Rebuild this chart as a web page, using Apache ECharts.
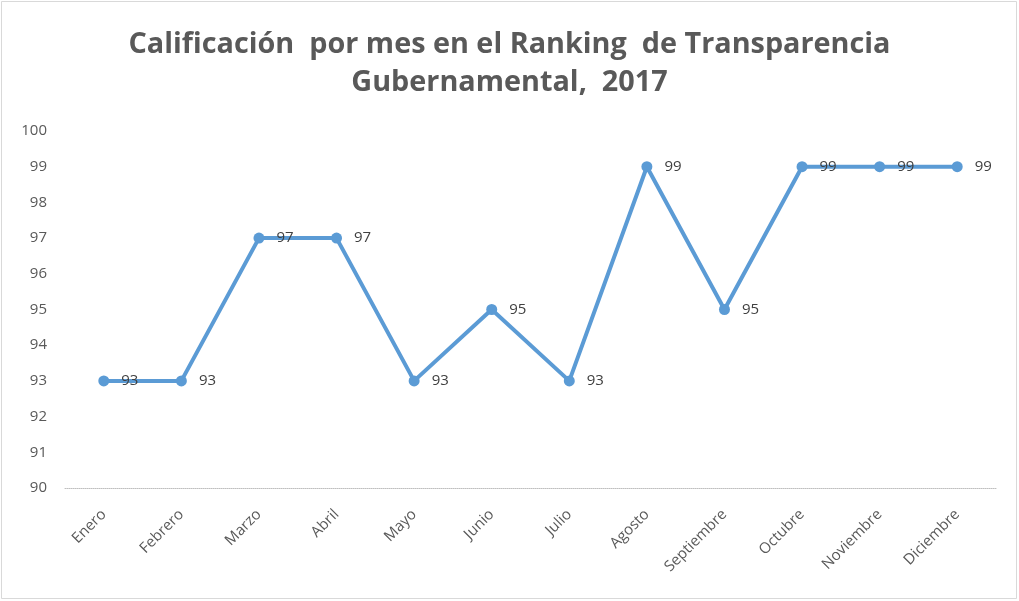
<!DOCTYPE html>
<html>
<head>
<meta charset="utf-8">
<script src="https://cdn.jsdelivr.net/npm/echarts@6/dist/echarts.min.js"></script>
<style>
html,body{margin:0;padding:0;background:#fff;}
#chart{width:1019px;height:601px;}
</style>
</head>
<body>
<div id="chart"></div>
<script>
const titleText = "Calificación  por mes en el Ranking  de Transparencia\nGubernamental,  2017";
const months = ["Enero","Febrero","Marzo","Abril","Mayo","Junio","Julio","Agosto","Septiembre","Octubre","Noviembre","Diciembre"];
const scores = [93,93,97,97,93,95,93,99,95,99,99,99];
const yMin = 90, yMax = 100, yStep = 1;

const chart = echarts.init(document.getElementById('chart'), null, {renderer:'canvas'});
chart.setOption({
  backgroundColor:'#ffffff',
  animation:false,
  title:{
    text:titleText,
    left:'center',
    top:21,
    textStyle:{fontFamily:'Open Sans',fontWeight:'bold',fontSize:28.8,color:'#595959',lineHeight:38}
  },
  graphic:[{
    type:'rect',
    shape:{x:1.5,y:1.5,width:1015,height:597},
    style:{fill:'none',stroke:'#d9d9d9',lineWidth:1},
    silent:true
  }],
  grid:{left:65,right:23,top:131,bottom:113,containLabel:false},
  xAxis:{
    type:'category',
    data:months,
    boundaryGap:true,
    axisLine:{show:true,lineStyle:{color:'#bfbfbf',type:'dotted',width:1}},
    axisTick:{show:false},
    axisLabel:{rotate:45,color:'#595959',fontFamily:'Open Sans',fontSize:15,margin:24,interval:0}
  },
  yAxis:{
    type:'value',
    min:yMin,max:yMax,interval:yStep,
    axisLine:{show:false},
    axisTick:{show:false},
    splitLine:{show:false},
    axisLabel:{color:'#595959',fontFamily:'Open Sans',fontSize:15,margin:18}
  },
  series:[{
    type:'line',
    data:scores,
    symbol:'circle',
    symbolSize:11,
    lineStyle:{color:'#5b9bd5',width:4},
    itemStyle:{color:'#5b9bd5'},
    label:{show:true,position:'right',distance:12,color:'#404040',fontFamily:'Open Sans',fontSize:15}
  }]
});
</script>
</body>
</html>
